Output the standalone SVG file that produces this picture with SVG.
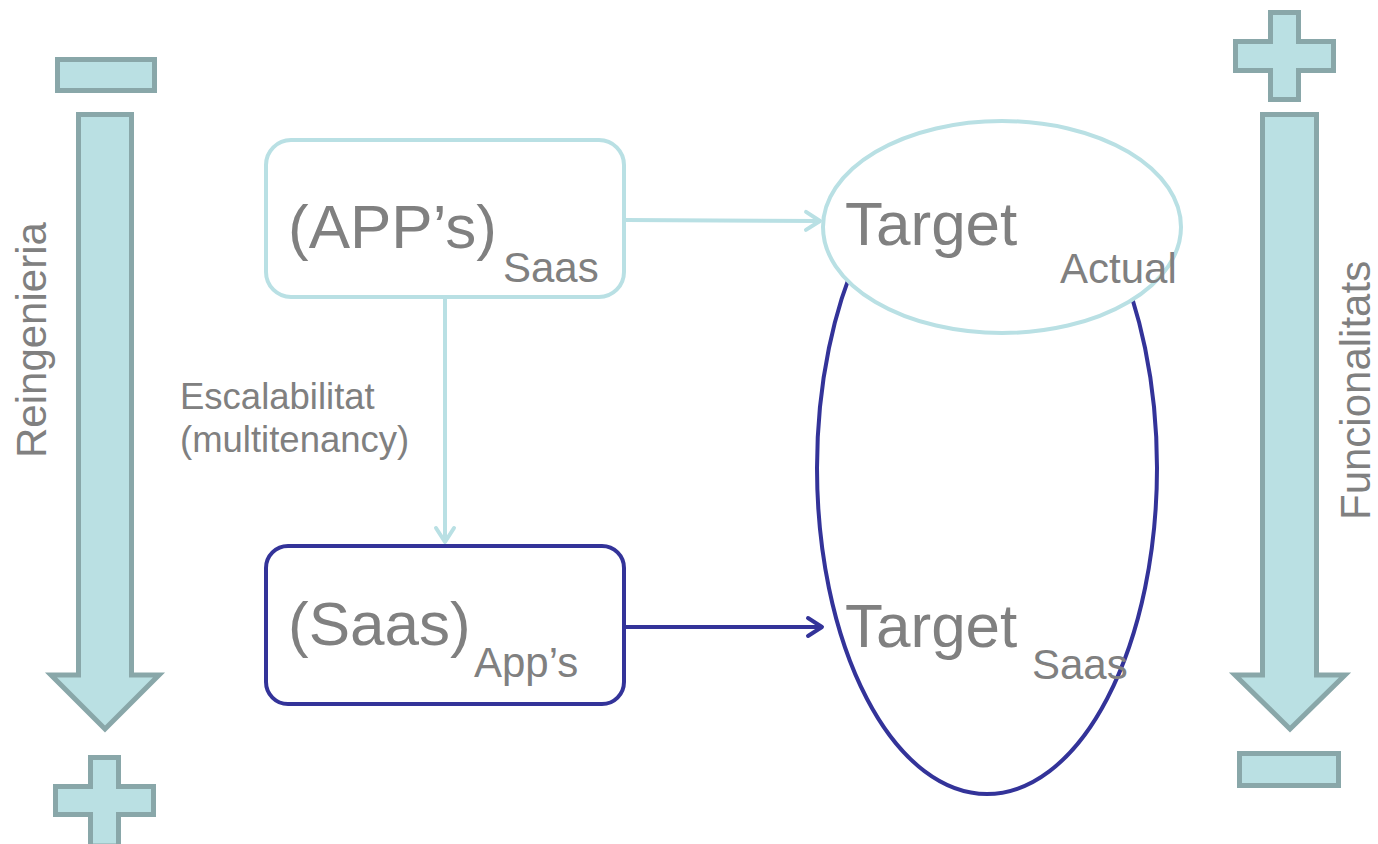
<svg xmlns="http://www.w3.org/2000/svg" width="1378" height="844" viewBox="0 0 1378 844">
<style>
.sym{fill:#BAE0E3;stroke:#89A7A9;stroke-width:5;stroke-linejoin:miter}
.txt{font-family:"Liberation Sans",Arial,sans-serif;fill:#808080}
.big{font-size:62px}
.sub{font-size:42px}
.lbl{font-size:36.5px}
.side{font-size:42px}
.light{stroke:#B9E0E4;stroke-width:4;fill:none}
.dark{stroke:#333399;stroke-width:4;fill:none}
</style>
<defs>
<marker id="ahLight" markerUnits="userSpaceOnUse" markerWidth="24" markerHeight="24" viewBox="0 0 24 24" refX="20" refY="12" orient="auto">
<path d="M6,3 L20,12 L6,21" fill="none" stroke="#B9E0E4" stroke-width="4" stroke-linecap="round" stroke-linejoin="round"/>
</marker>
<marker id="ahDark" markerUnits="userSpaceOnUse" markerWidth="24" markerHeight="24" viewBox="0 0 24 24" refX="20" refY="12" orient="auto">
<path d="M6,3 L20,12 L6,21" fill="none" stroke="#333399" stroke-width="4" stroke-linecap="round" stroke-linejoin="round"/>
</marker>
</defs>
<rect width="1378" height="844" fill="#ffffff"/>

<g id="left-scale">
<rect class="sym" x="57.5" y="59.5" width="97" height="31"/>
<polygon class="sym" points="78.5,114.5 131.5,114.5 131.5,675 159,675 105,729 51,675 78.5,675"/>
<polygon class="sym" points="90.5,757.5 118.5,757.5 118.5,786.5 153.5,786.5 153.5,814.5 118.5,814.5 118.5,846 90.5,846 90.5,814.5 55.5,814.5 55.5,786.5 90.5,786.5"/>
<text class="txt side" transform="translate(46,458) rotate(-90)">Reingenieria</text>
</g>

<g id="right-scale">
<polygon class="sym" points="1270.5,12.5 1298.5,12.5 1298.5,41.5 1333.5,41.5 1333.5,70.5 1298.5,70.5 1298.5,99.5 1270.5,99.5 1270.5,70.5 1235.5,70.5 1235.5,41.5 1270.5,41.5"/>
<polygon class="sym" points="1262.5,114.5 1316.5,114.5 1316.5,675 1345,675 1290,729 1235,675 1262.5,675"/>
<rect class="sym" x="1239.5" y="753.5" width="99" height="32"/>
<text class="txt side" transform="translate(1370,520) rotate(-90)">Funcionalitats</text>
</g>

<g id="target-saas">
<ellipse class="dark" cx="987" cy="468" rx="170" ry="326"/>
</g>

<g id="target-actual">
<ellipse cx="1002" cy="227" rx="179" ry="106" fill="#ffffff" stroke="#B9E0E4" stroke-width="4"/>
<text class="txt big" x="845" y="245">Target</text>
<text class="txt sub" x="1060" y="283">Actual</text>
</g>

<g id="target-saas-label">
<text class="txt big" x="845" y="647">Target</text>
<text class="txt sub" x="1032" y="679">Saas</text>
</g>

<g id="apps-saas">
<rect x="266" y="140" width="358" height="157" rx="25" ry="25" class="light"/>
<text class="txt big" x="288" y="248">(APP’s)</text>
<text class="txt sub" x="503" y="282">Saas</text>
</g>

<g id="saas-apps">
<rect x="266" y="546" width="358" height="158" rx="22" ry="22" class="dark"/>
<text class="txt big" x="288" y="645">(Saas)</text>
<text class="txt sub" x="474" y="677">App’s</text>
</g>

<g id="connectors">
<line class="light" x1="626" y1="220" x2="820" y2="221" marker-end="url(#ahLight)"/>
<line class="light" x1="445" y1="299" x2="445" y2="542" marker-end="url(#ahLight)"/>
<line class="dark" x1="626" y1="627" x2="822" y2="627" marker-end="url(#ahDark)"/>
<text class="txt lbl" x="180" y="409">Escalabilitat</text>
<text class="txt lbl" x="180" y="452">(multitenancy)</text>
</g>
</svg>
